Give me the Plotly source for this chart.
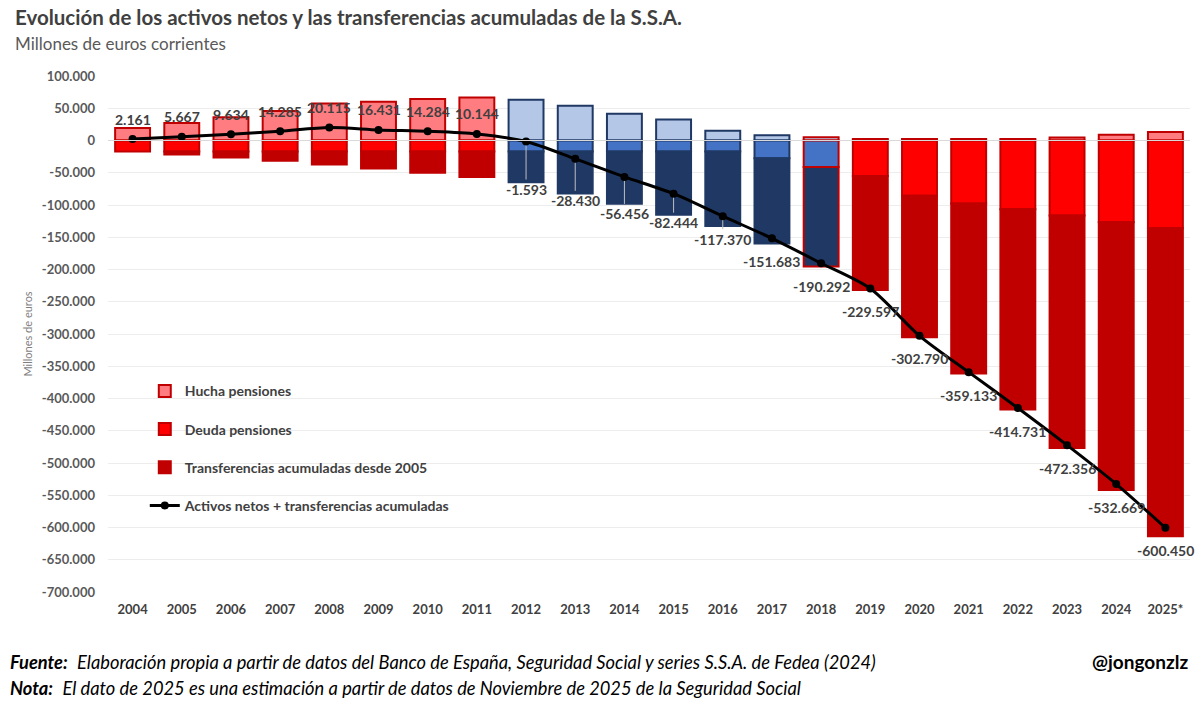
import plotly.graph_objects as go

# ---------------- DATA ----------------
years = ["2004", "2005", "2006", "2007", "2008", "2009", "2010", "2011", "2012", "2013", "2014",
         "2015", "2016", "2017", "2018", "2019", "2020", "2021", "2022", "2023", "2024", "2025*"]

hucha = [19330, 27200, 35900, 45700, 57200, 60000, 64400, 66800, 63008, 53744, 41634,
         32481, 15020, 8095, 5043, 2153, 2138, 2138, 2138, 4500, 9000, 13000]

deuda = [-17169, -17169, -17169, -17169, -17169, -17169, -17169, -17169, -17169, -17169, -17169,
         -17169, -17169, -27362, -41192, -55022, -85700, -97600, -106400, -116200, -126600, -135900]

transferencias = [0, -4364, -9097, -14246, -19916, -26400, -32947, -39487, -47432, -65005, -80921,
                  -97756, -115221, -132416, -154143, -176728, -219228, -263671, -310469, -360656,
                  -415069, -477550]

neto = [2161, 5667, 9634, 14285, 20115, 16431, 14284, 10144, -1593, -28430, -56456, -82444,
        -117370, -151683, -190292, -229597, -302790, -359133, -414731, -472356, -532669, -600450]

# colour regime per year: "r" red, "b" blue, "m" blue fill with red outline
regime = ["r"] * 8 + ["b"] * 6 + ["m"] + ["r"] * 7

ytick_vals = list(range(100000, -700001, -50000))

# ---------------- STYLE ----------------
def fmt(v):
    s = f"{abs(v):,}".replace(",", ".")
    return ("-" if v < 0 else "") + s

fill_h = {"r": "#FF7C80", "b": "#B4C7E7", "m": "#B4C7E7"}
fill_d = {"r": "#FF0000", "b": "#4472C4", "m": "#4472C4"}
fill_t = {"r": "#C00000", "b": "#1F3864", "m": "#1F3864"}
edge = {"r": "#C00000", "b": "#1F3864", "m": "#C00000"}

edges = [edge[g] for g in regime]
FONT = "Lato"
DARK = "#404040"

fig = go.Figure()
fig.add_trace(go.Bar(x=years, y=hucha, name="Hucha pensiones", legendgroup="a",
                     marker=dict(color=[fill_h[g] for g in regime],
                                 line=dict(color=edges, width=2))))
fig.add_trace(go.Bar(x=years, y=deuda, name="Deuda pensiones", legendgroup="b",
                     marker=dict(color=[fill_d[g] for g in regime],
                                 line=dict(color=edges, width=2))))
fig.add_trace(go.Bar(x=years, y=transferencias, name="Transferencias acumuladas desde 2005",
                     legendgroup="c",
                     marker=dict(color=[fill_t[g] for g in regime],
                                 line=dict(color=edges, width=2))))
fig.add_trace(go.Scatter(x=years, y=neto, name="Activos netos + transferencias acumuladas",
                         legendgroup="d", mode="lines+markers",
                         line=dict(color="black", width=3, shape="spline", smoothing=0.8),
                         marker=dict(color="black", size=8)))

# data labels for the line (x given as category index)
label_dy = [-20] * 8 + [48, 42, 37, 29, 23] + [23] * 9
leader = [False] * 8 + [True] * 5 + [False] * 9
annotations = []
for i, (v, dy, ld) in enumerate(zip(neto, label_dy, leader)):
    annotations.append(dict(
        x=i, y=v, xref="x", yref="y", text=fmt(v), showarrow=True,
        ax=0, ay=dy, arrowhead=0, arrowwidth=1, standoff=4,
        arrowcolor="#BFBFBF" if ld else "rgba(0,0,0,0)",
        font=dict(family=FONT, size=14, color=DARK, weight="bold")))

# title, subtitle, footer
annotations += [
    dict(text="<b>Evolución de los activos netos y las transferencias acumuladas de la S.S.A.</b>",
         xref="paper", yref="paper", x=-0.0878, y=1.1136, xanchor="left", yanchor="middle",
         showarrow=False, font=dict(family=FONT, size=20.5, color=DARK)),
    dict(text="Millones de euros corrientes",
         xref="paper", yref="paper", x=-0.0878, y=1.0635, xanchor="left", yanchor="middle",
         showarrow=False, font=dict(family=FONT, size=17, color="#595959")),
    dict(text="<b><i>Fuente:</i></b>  <i>Elaboración propia a partir de datos del Banco de España, "
              "Seguridad Social y series S.S.A. de Fedea (2024)</i>",
         xref="paper", yref="paper", x=-0.0924, y=-0.1349, xanchor="left", yanchor="middle",
         showarrow=False, font=dict(family=FONT, size=18.3, color="black")),
    dict(text="<b><i>Nota:</i></b>  <i>El dato de 2025 es una estimación a partir de datos de "
              "Noviembre de 2025 de la Seguridad Social</i>",
         xref="paper", yref="paper", x=-0.0924, y=-0.1852, xanchor="left", yanchor="middle",
         showarrow=False, font=dict(family=FONT, size=18.3, color="black")),
    dict(text="<b>@jongonzlz</b>",
         xref="paper", yref="paper", x=1.0, y=-0.1349, xanchor="right", yanchor="middle",
         showarrow=False, font=dict(family=FONT, size=19, color="black")),
]

fig.update_layout(
    width=1200, height=702,
    margin=dict(l=108, r=10, t=76, b=110),
    barmode="relative", bargap=0.29,
    plot_bgcolor="white", paper_bgcolor="white",
    font=dict(family=FONT, color=DARK),
    showlegend=True,
    legend=dict(x=0.034, y=0.42, xanchor="left", yanchor="top",
                traceorder="grouped", tracegroupgap=17,
                bgcolor="rgba(255,255,255,0)",
                font=dict(family=FONT, size=14, color=DARK, weight="bold"),
                itemwidth=30),
    annotations=annotations,
    shapes=[dict(type="line", xref="paper", yref="y", x0=0, x1=1, y0=0, y1=0,
                 line=dict(color="#D9D9D9", width=1), layer="above")],
)
fig.update_xaxes(type="category", range=[-0.5, len(years) - 0.5], autorange=False,
                 showgrid=False, showline=False, ticks="",
                 tickfont=dict(family=FONT, size=13, color=DARK, weight="bold"),
                 ticklabelstandoff=8, automargin=False)
fig.update_yaxes(range=[-700000, 100000], autorange=False, tickvals=ytick_vals,
                 ticktext=[fmt(v) for v in ytick_vals],
                 showgrid=True, gridcolor="#EDEDED", gridwidth=1, zeroline=False,
                 showline=False, ticks="", ticklabelstandoff=12,
                 tickfont=dict(family=FONT, size=13, color="#595959", weight="bold"),
                 title=dict(text="Millones de euros", font=dict(family=FONT, size=11, color="#7F7F7F"),
                            standoff=6),
                 automargin=False)

fig.write_html("out.html", config={"displayModeBar": False},
               post_script="document.body.style.margin='0';")
